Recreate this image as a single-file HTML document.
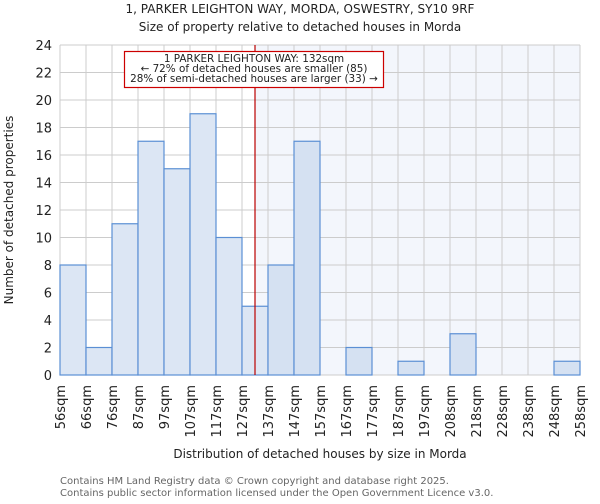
<!DOCTYPE html>
<html><head><meta charset="utf-8"><style>
body{margin:0;background:#fff;font-family:"DejaVu Sans","Liberation Sans",sans-serif;}
</style></head><body>
<svg width="600" height="500" xmlns="http://www.w3.org/2000/svg" font-family="DejaVu Sans, Liberation Sans, sans-serif">
<text x="300" y="13" text-anchor="middle" font-size="12" fill="#222">1, PARKER LEIGHTON WAY, MORDA, OSWESTRY, SY10 9RF</text>
<text x="300" y="31" text-anchor="middle" font-size="12" fill="#222">Size of property relative to detached houses in Morda</text>
<g id="plot"></g>
<text transform="translate(13,210) rotate(-90)" text-anchor="middle" font-size="12" fill="#222">Number of detached properties</text>
<text x="320" y="458" text-anchor="middle" font-size="12" fill="#222">Distribution of detached houses by size in Morda</text>
<text x="60" y="484" font-size="10" fill="#666">Contains HM Land Registry data © Crown copyright and database right 2025.</text>
<text x="60" y="496" font-size="10" fill="#666">Contains public sector information licensed under the Open Government Licence v3.0.</text>
</svg>
<script>
const categories=["56sqm","66sqm","76sqm","87sqm","97sqm","107sqm","117sqm","127sqm","137sqm","147sqm","157sqm","167sqm","177sqm","187sqm","197sqm","208sqm","218sqm","228sqm","238sqm","248sqm","258sqm"];
const counts=[8,2,11,17,15,19,10,5,8,17,0,2,0,1,0,3,0,0,0,1];
const yTicks=[0,2,4,6,8,10,12,14,16,18,20,22,24];
const propertySize=132;
const binStart=[56,66,76,87,97,107,117,127,137,147,157,167,177,187,197,208,218,228,238,248,258];
const X0=60,X1=580,Y0=375,Y1=45,YMAX=24;
const n=counts.length,bw=(X1-X0)/n;
const xs=i=>X0+i*bw;
const ys=v=>Y0-(v/YMAX)*(Y0-Y1);
function sizeX(s){for(let i=0;i<n;i++){if(s>=binStart[i]&&s<binStart[i+1])return xs(i)+bw*(s-binStart[i])/(binStart[i+1]-binStart[i]);}return X1;}
const NS="http://www.w3.org/2000/svg",g=document.getElementById('plot');
function mk(t,a){const e=document.createElementNS(NS,t);for(const k in a)e.setAttribute(k,a[k]);g.appendChild(e);return e;}
const lx=sizeX(propertySize);
let e=mk('rect',{x:lx,y:Y1,width:X1-lx,height:Y0-Y1,fill:'#f3f6fc'});


yTicks.forEach(v=>{let l=mk('line',{x1:X0,x2:X1,y1:ys(v),y2:ys(v),stroke:'#ccc','stroke-width':1});


let t=mk('text',{x:X0-8,y:ys(v)+5,'text-anchor':'end','font-size':13,fill:'#222'});t.textContent=v;

});
for(let i=0;i<=n;i++){let l=mk('line',{x1:xs(i),x2:xs(i),y1:Y1,y2:Y0,stroke:'#ccc','stroke-width':1});

}
counts.forEach((v,i)=>{if(v<=0)return;let r=mk('rect',{x:xs(i),y:ys(v),width:bw,height:Y0-ys(v),fill:xs(i)>=lx?'#d5e1f2':'#dce6f4',stroke:'#5b8fd4','stroke-width':1.2});

});
categories.forEach((c,i)=>{let t=mk('text',{transform:`translate(${xs(i)+5},${Y0+10}) rotate(-90)`,'text-anchor':'end','font-size':13,fill:'#222'});t.textContent=c;

});
e=mk('line',{x1:lx,x2:lx,y1:Y1,y2:Y0,stroke:'#b00','stroke-width':1.2});


e=mk('rect',{x:124.5,y:51.5,width:259,height:36,fill:'#fff',stroke:'#c00','stroke-width':1.2});


["1 PARKER LEIGHTON WAY: 132sqm","← 72% of detached houses are smaller (85)","28% of semi-detached houses are larger (33) →"].forEach((s,k)=>{let t=mk('text',{x:254,y:62+k*10,'text-anchor':'middle','font-size':10.4,fill:'#222'});t.textContent=s;

});
</script>
</body></html>
